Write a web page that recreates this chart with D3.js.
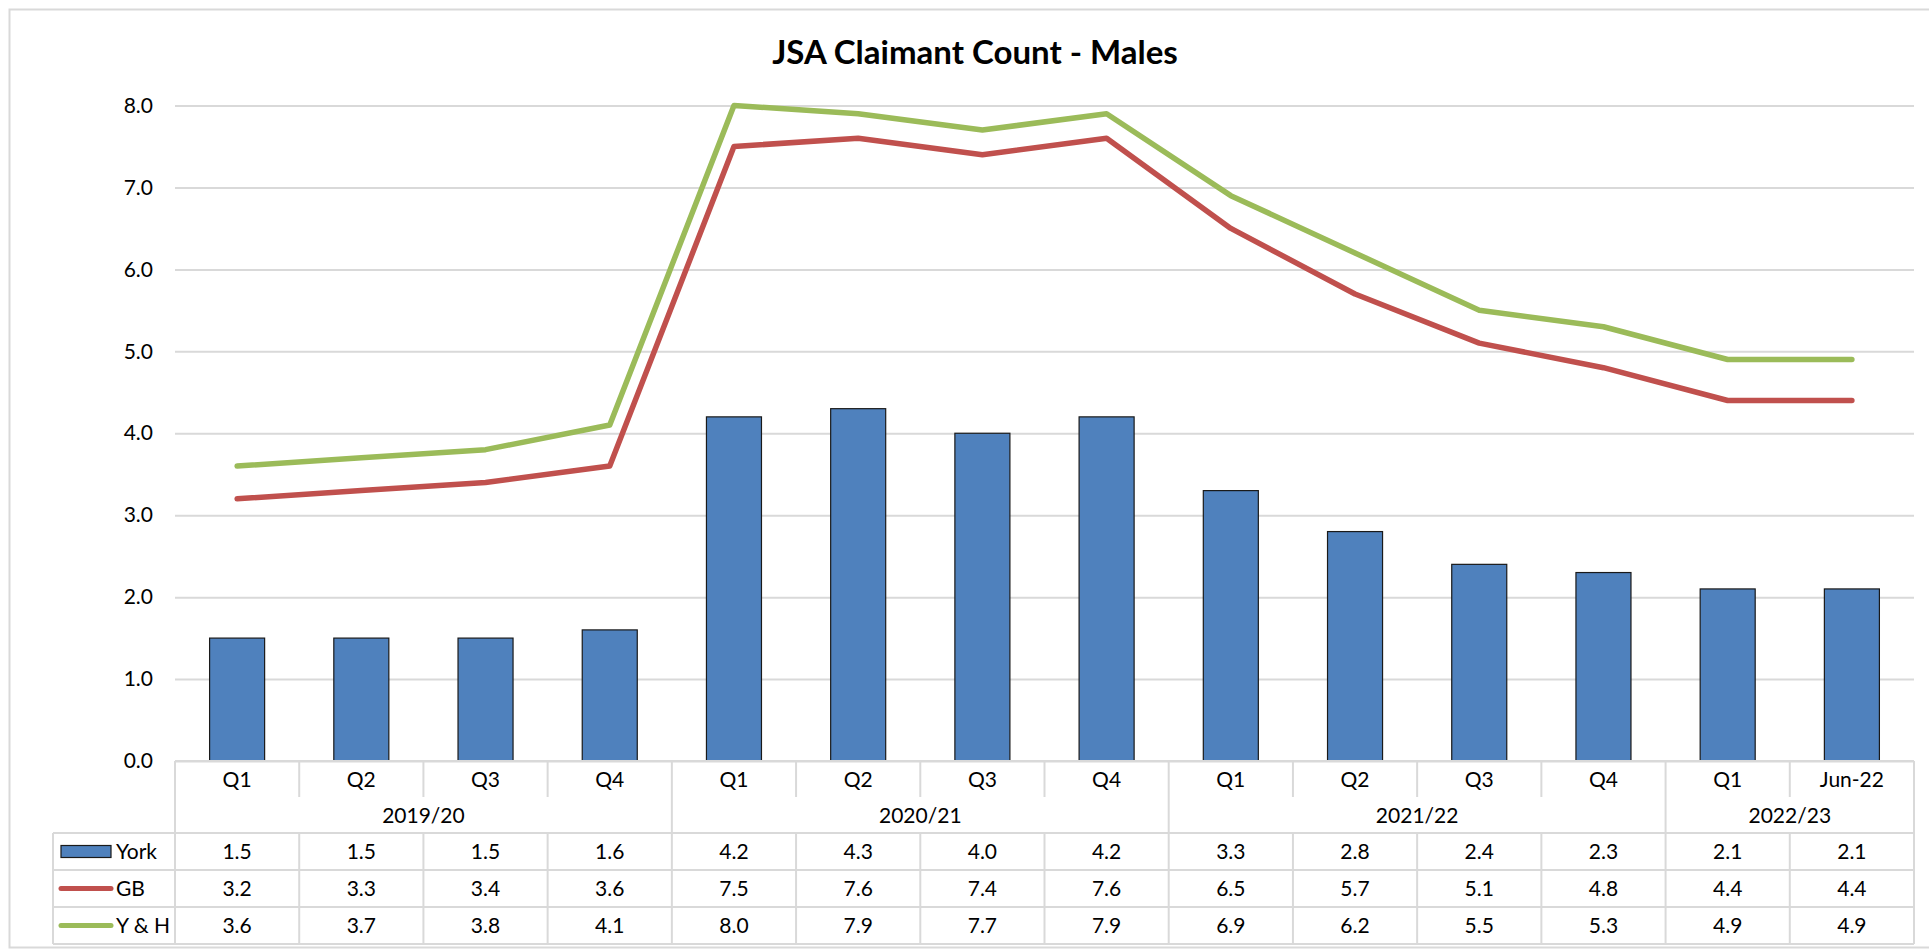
<!DOCTYPE html>
<html>
<head>
<meta charset="utf-8">
<script src="https://cdn.jsdelivr.net/npm/d3@7"></script>
<style>
  body { margin: 0; background: #fff; }
  text { font-family: Lato, 'Open Sans', sans-serif; }
</style>
</head>
<body>
<div class="canvas"></div>
<script>
//data
const quarters = ['Q1', 'Q2', 'Q3', 'Q4', 'Q1', 'Q2', 'Q3', 'Q4', 'Q1', 'Q2', 'Q3', 'Q4', 'Q1', 'Jun-22'];
const years = ['2019/20', '2020/21', '2021/22', '2022/23'];
const yearSpans = [4, 4, 4, 2];
const york = [1.5, 1.5, 1.5, 1.6, 4.2, 4.3, 4.0, 4.2, 3.3, 2.8, 2.4, 2.3, 2.1, 2.1];
const gb = [3.2, 3.3, 3.4, 3.6, 7.5, 7.6, 7.4, 7.6, 6.5, 5.7, 5.1, 4.8, 4.4, 4.4];
const yh = [3.6, 3.7, 3.8, 4.1, 8.0, 7.9, 7.7, 7.9, 6.9, 6.2, 5.5, 5.3, 4.9, 4.9];
const yTicks = [0, 1, 2, 3, 4, 5, 6, 7, 8];

const series = [
  { name: 'York', values: york, color: '#4F81BD', type: 'bar' },
  { name: 'GB', values: gb, color: '#C0504D', type: 'line' },
  { name: 'Y & H', values: yh, color: '#9BBB59', type: 'line' }
];

const W = 1929, H = 952;
const plotLeft = 175, plotRight = 1914;
const plotTop = 105.5, plotBottom = 761;
const gridColor = '#d9d9d9';

const svg = d3.select('.canvas').append('svg').attr('width', W).attr('height', H);

//outer border
svg.append('rect')
  .attr('x', 9.5).attr('y', 9.5)
  .attr('width', 1930).attr('height', 938)
  .attr('fill', 'none')
  .attr('stroke', gridColor)
  .attr('stroke-width', 2);

//scales
const x = d3.scaleBand()
  .domain(d3.range(quarters.length))
  .range([plotLeft, plotRight])
  .paddingInner(0.557)
  .paddingOuter(0.2785);
const step = x.step();
const colX = i => plotLeft + i * step;
const cx = i => x(i) + x.bandwidth() / 2;

const y = d3.scaleLinear().domain([0, 8]).range([plotBottom, plotTop]);

//title
svg.append('text')
  .attr('x', 975).attr('y', 64)
  .attr('text-anchor', 'middle')
  .style('font-size', '33px')
  .style('font-weight', 'bold')
  .text('JSA Claimant Count - Males');

//gridlines + y labels
const yAxis = d3.axisLeft(y).tickValues(yTicks).tickFormat(d3.format('.1f')).tickSize(-(plotRight - plotLeft)).tickPadding(22);
const gy = svg.append('g').attr('transform', `translate(${plotLeft},0)`).call(yAxis);
gy.select('.domain').remove();
gy.selectAll('.tick line').attr('stroke', gridColor).attr('stroke-width', 2);
gy.selectAll('.tick text')
  .attr('fill', '#000')
  .style('font-size', '21px')
  .style('font-family', 'Lato, sans-serif');

//bars
svg.append('g').selectAll('rect')
  .data(york)
  .join('rect')
  .attr('x', (d, i) => x(i))
  .attr('y', d => y(d))
  .attr('width', x.bandwidth())
  .attr('height', d => y(0) - y(d))
  .attr('fill', '#4F81BD')
  .attr('stroke', '#1a1a1a')
  .attr('stroke-width', 1.2);

//lines
const line = d3.line().x((d, i) => cx(i)).y(d => y(d));
series.filter(s => s.type === 'line').forEach(s => {
  svg.append('path')
    .attr('d', line(s.values))
    .attr('fill', 'none')
    .attr('stroke', s.color)
    .attr('stroke-width', 5.5)
    .attr('stroke-linejoin', 'round')
    .attr('stroke-linecap', 'round');
});

//data table
const qTop = 761, qBot = 797, yrBot = 833, rowH = 37;
const tableBot = yrBot + rowH * series.length;
const legLeft = 53;
const table = svg.append('g')
  .attr('stroke', gridColor)
  .attr('stroke-width', 2);

table.append('line').attr('x1', plotLeft).attr('x2', plotRight).attr('y1', qTop).attr('y2', qTop);
d3.range(series.length + 1).forEach(r => {
  table.append('line')
    .attr('x1', legLeft).attr('x2', plotRight)
    .attr('y1', yrBot + r * rowH).attr('y2', yrBot + r * rowH);
});
table.append('line').attr('x1', legLeft).attr('x2', legLeft).attr('y1', yrBot).attr('y2', tableBot);

const yearEdges = Array.from(d3.cumsum(yearSpans));
d3.range(quarters.length + 1).forEach(i => {
  const isYear = i === 0 || yearEdges.includes(i);
  if (isYear) {
    table.append('line').attr('x1', colX(i)).attr('x2', colX(i)).attr('y1', qTop).attr('y2', tableBot);
  } else {
    table.append('line').attr('x1', colX(i)).attr('x2', colX(i)).attr('y1', qTop).attr('y2', qBot);
    table.append('line').attr('x1', colX(i)).attr('x2', colX(i)).attr('y1', yrBot).attr('y2', tableBot);
  }
});

const txt = svg.append('g')
  .attr('text-anchor', 'middle')
  .style('font-size', '21px')
  .attr('fill', '#000');

//quarter labels
txt.append('g').selectAll('text')
  .data(quarters)
  .join('text')
  .attr('x', (d, i) => colX(i) + step / 2)
  .attr('y', qTop + 26)
  .text(d => d);

//year labels
const yearStart = [0].concat(yearEdges.slice(0, -1));
txt.append('g').selectAll('text')
  .data(years)
  .join('text')
  .attr('x', (d, i) => colX(yearStart[i]) + yearSpans[i] * step / 2)
  .attr('y', qBot + 26)
  .text(d => d);

//values
series.forEach((s, r) => {
  txt.append('g').selectAll('text')
    .data(s.values)
    .join('text')
    .attr('x', (d, i) => colX(i) + step / 2)
    .attr('y', yrBot + r * rowH + 26)
    .text(d => d.toFixed(1));

  //legend keys
  const ky = yrBot + r * rowH + rowH / 2;
  if (s.type === 'bar') {
    svg.append('rect')
      .attr('x', 61).attr('y', ky - 6)
      .attr('width', 50).attr('height', 12)
      .attr('fill', s.color)
      .attr('stroke', '#1a1a1a')
      .attr('stroke-width', 1.2);
  } else {
    svg.append('line')
      .attr('x1', 61).attr('x2', 111)
      .attr('y1', ky).attr('y2', ky)
      .attr('stroke', s.color)
      .attr('stroke-width', 5)
      .attr('stroke-linecap', 'round');
  }
  svg.append('text')
    .attr('x', 116)
    .attr('y', yrBot + r * rowH + 26)
    .style('font-size', '21px')
    .text(s.name);
});
</script>
</body>
</html>
